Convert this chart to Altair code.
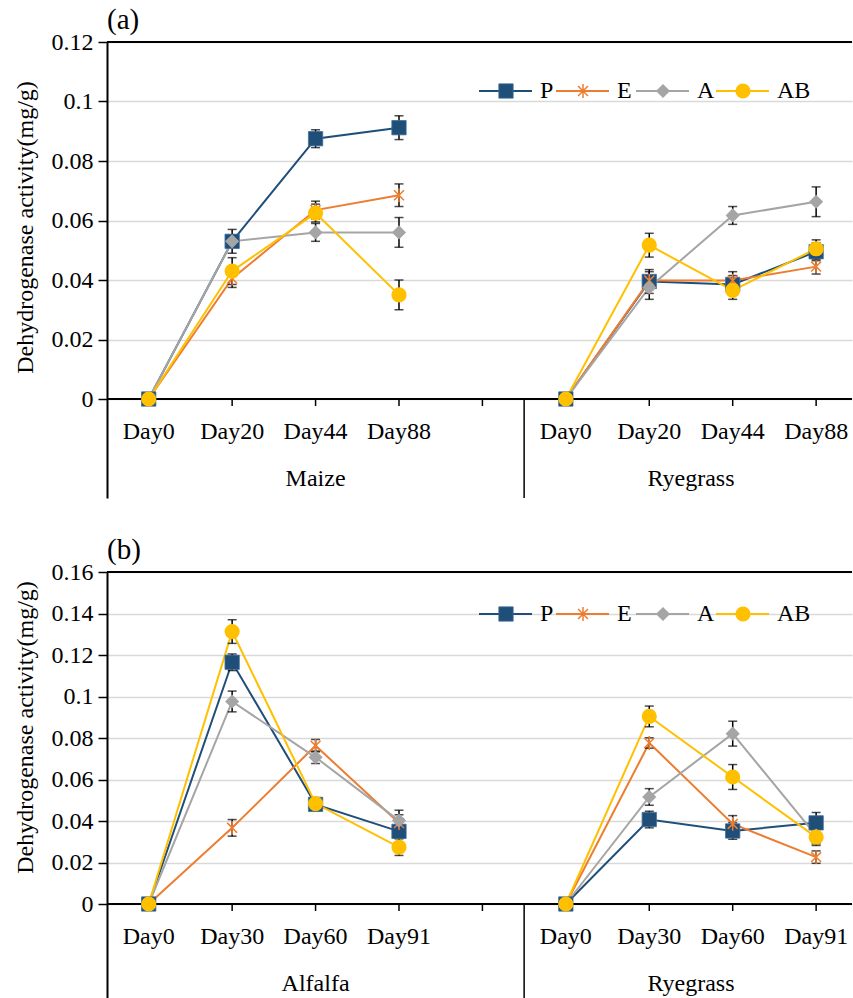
import altair as alt
import pandas as pd

FONT = "'Liberation Serif', 'Times New Roman', Times, 'DejaVu Serif', serif"
SERIES = ["P", "E", "A", "AB"]
COLORS = ["#1F4E79", "#ED7D31", "#A5A5A5", "#FFC000"]

# ---------------- Panel (a) ----------------
a_groups = ["Maize", "Ryegrass"]
a_days = ["Day0", "Day20", "Day44", "Day88"]
a_maize_P = [0, 0.0530, 0.0875, 0.0912]
a_maize_E = [0, 0.0405, 0.0635, 0.0685]
a_maize_A = [0, 0.0530, 0.0560, 0.0560]
a_maize_AB = [0, 0.0430, 0.0625, 0.0350]
a_maize_P_err = [0, 0.0040, 0.0030, 0.0040]
a_maize_E_err = [0, 0.0030, 0.0030, 0.0038]
a_maize_A_err = [0, 0.0020, 0.0030, 0.0050]
a_maize_AB_err = [0, 0.0045, 0.0030, 0.0050]
a_rye_P = [0, 0.0395, 0.0385, 0.0495]
a_rye_E = [0, 0.0398, 0.0398, 0.0445]
a_rye_A = [0, 0.0375, 0.0617, 0.0663]
a_rye_AB = [0, 0.0517, 0.0365, 0.0505]
a_rye_P_err = [0, 0.0040, 0.0030, 0.0030]
a_rye_E_err = [0, 0.0030, 0.0030, 0.0025]
a_rye_A_err = [0, 0.0040, 0.0030, 0.0050]
a_rye_AB_err = [0, 0.0040, 0.0030, 0.0030]
a_yticks = [0, 0.02, 0.04, 0.06, 0.08, 0.1, 0.12]

# ---------------- Panel (b) ----------------
b_groups = ["Alfalfa", "Ryegrass"]
b_days = ["Day0", "Day30", "Day60", "Day91"]
b_alf_P = [0, 0.1165, 0.0480, 0.0350]
b_alf_E = [0, 0.0367, 0.0763, 0.0390]
b_alf_A = [0, 0.0976, 0.0707, 0.0402]
b_alf_AB = [0, 0.1313, 0.0484, 0.0274]
b_alf_P_err = [0, 0.0040, 0.0020, 0.0030]
b_alf_E_err = [0, 0.0040, 0.0030, 0.0040]
b_alf_A_err = [0, 0.0050, 0.0030, 0.0050]
b_alf_AB_err = [0, 0.0057, 0.0020, 0.0040]
b_rye_P = [0, 0.0407, 0.0352, 0.0391]
b_rye_E = [0, 0.0776, 0.0386, 0.0226]
b_rye_A = [0, 0.0516, 0.0821, 0.0330]
b_rye_AB = [0, 0.0904, 0.0612, 0.0322]
b_rye_P_err = [0, 0.0040, 0.0040, 0.0050]
b_rye_E_err = [0, 0.0025, 0.0040, 0.0030]
b_rye_A_err = [0, 0.0040, 0.0060, 0.0040]
b_rye_AB_err = [0, 0.0050, 0.0060, 0.0040]
b_yticks = [0, 0.02, 0.04, 0.06, 0.08, 0.1, 0.12, 0.14, 0.16]

Y_TITLE = "Dehydrogenase activity(mg/g)"

# ---------------- layout constants ----------------
WIDTH = 745
X_DOM = [-0.5, 8.43]
STAR = "M-0.75,-0.75L0.75,0.75M-0.75,0.75L0.75,-0.75M0,-1.05L0,1.05"
LEG_START = [372, 449, 529, 609]


def long_df(groups, days, vals, errs):
    rows = []
    for gi, g in enumerate(groups):
        for s in SERIES:
            for di, d in enumerate(days):
                v = vals[gi][s][di]
                e = errs[gi][s][di]
                rows.append(dict(group=g, series=s, slot=gi * 5 + di, day=d,
                                 value=v, lo=v - e, hi=v + e, err=e))
    return pd.DataFrame(rows)


def panel(df, groups, days, ymax, yvals, height, zero_px, title, leg_py, title_y):
    ylo = -ymax * (height - zero_px) / zero_px
    xs = alt.Scale(domain=X_DOM, nice=False, zero=False)
    ys = alt.Scale(domain=[ylo, ymax], nice=False, zero=False)
    yaxis = alt.Axis(values=yvals, labelExpr="format(datum.value, '~g')", title=Y_TITLE,
                     titleFont=FONT, titleFontSize=24, titleFontWeight="normal",
                     titleColor="black", titlePadding=14, titleY=title_y,
                     labelFont=FONT, labelFontSize=24, labelColor="black",
                     labelPadding=5, tickSize=9, tickColor="black", tickWidth=1.5,
                     domainColor="black", domainWidth=2,
                     grid=True, gridColor="#D9D9D9", gridWidth=1.5)

    def X(f):
        return alt.X(f, type="quantitative", scale=xs, axis=None)

    def Y(f):
        return alt.Y(f, type="quantitative", scale=ys, axis=yaxis)

    color = alt.Color("series:N", scale=alt.Scale(domain=SERIES, range=COLORS), legend=None)

    def px2slot(p):
        return X_DOM[0] + p / WIDTH * (X_DOM[1] - X_DOM[0])

    def py2val(p):
        return ymax - p / height * (ymax - ylo)

    leg = pd.DataFrame(dict(
        series=SERIES,
        lx1=[px2slot(p) for p in LEG_START],
        lx2=[px2slot(p + 53) for p in LEG_START],
        slot=[px2slot(p + 27) for p in LEG_START],
        tx=[px2slot(p + 61) for p in LEG_START],
        value=[py2val(leg_py)] * 4,
    ))

    base = alt.Chart(df)
    layers = []
    # axis frame
    layers.append(alt.Chart(pd.DataFrame({"v": [0.0]})).mark_rule(color="black", strokeWidth=2)
                  .encode(y=Y("v")))
    layers.append(alt.Chart(pd.DataFrame({"v": [ymax]})).mark_rule(color="black", strokeWidth=2)
                  .encode(y=Y("v")))
    layers.append(alt.Chart(pd.DataFrame({"slot": list(range(9)), "v": [0.0] * 9}))
                  .mark_rule(color="black", strokeWidth=1.5)
                  .encode(x=X("slot"), y=Y("v"), y2=alt.value(zero_px + 7)))
    layers.append(alt.Chart(pd.DataFrame({"slot": [4.5], "v": [0.0]}))
                  .mark_rule(color="black", strokeWidth=1.5)
                  .encode(x=X("slot"), y=Y("v"), y2=alt.value(height)))
    day_df = pd.DataFrame({"slot": [0, 1, 2, 3, 5, 6, 7, 8], "label": days + days, "v": [0.0] * 8})
    layers.append(alt.Chart(day_df).mark_text(font=FONT, fontSize=24, color="black", dy=33, baseline="middle")
                  .encode(x=X("slot"), y=Y("v"), text="label:N"))
    grp_df = pd.DataFrame({"slot": [2, 6.5], "label": groups, "v": [0.0, 0.0]})
    layers.append(alt.Chart(grp_df).mark_text(font=FONT, fontSize=24, color="black", dy=80, baseline="middle")
                  .encode(x=X("slot"), y=Y("v"), text="label:N"))

    # data lines
    layers.append(base.mark_line(strokeWidth=2).encode(
        x=X("slot"), y=Y("value"), color=color, detail="group:N", order="slot:Q"))
    # legend lines and labels
    layers.append(alt.Chart(leg).mark_rule(strokeWidth=2).encode(
        x=X("lx1"), x2="lx2:Q", y=Y("value"), color=color))
    layers.append(alt.Chart(leg).mark_text(font=FONT, fontSize=24, color="black", align="left", baseline="middle")
                  .encode(x=X("tx"), y=Y("value"), text="series:N"))
    # error bars
    eb = base.transform_filter("datum.err > 0")
    layers.append(eb.mark_rule(color="black", strokeWidth=1.5).encode(x=X("slot"), y=Y("lo"), y2="hi:Q"))
    layers.append(eb.mark_tick(color="black", orient="horizontal", size=9, thickness=1.5)
                  .encode(x=X("slot"), y=Y("lo")))
    layers.append(eb.mark_tick(color="black", orient="horizontal", size=9, thickness=1.5)
                  .encode(x=X("slot"), y=Y("hi")))

    # markers (data + legend)
    for src in (base, alt.Chart(leg)):
        layers.append(src.transform_filter("datum.series == 'P'")
                      .mark_point(shape="square", filled=True, size=205, opacity=1,
                                  color=COLORS[0], stroke="#3F6D99", strokeWidth=0.8)
                      .encode(x=X("slot"), y=Y("value")))
        layers.append(src.transform_filter("datum.series == 'E'")
                      .mark_point(shape=STAR, filled=False, size=175, opacity=1,
                                  color=COLORS[1], strokeWidth=1.5)
                      .encode(x=X("slot"), y=Y("value")))
        layers.append(src.transform_filter("datum.series == 'A'")
                      .mark_point(shape="diamond", filled=True, size=200, opacity=1, color=COLORS[2])
                      .encode(x=X("slot"), y=Y("value")))
        layers.append(src.transform_filter("datum.series == 'AB'")
                      .mark_point(shape="circle", filled=True, size=230, opacity=1, color=COLORS[3])
                      .encode(x=X("slot"), y=Y("value")))

    return alt.layer(*layers).properties(
        width=WIDTH, height=height,
        title=alt.TitleParams(title, anchor="start", frame="group", font=FONT, fontSize=29,
                              fontWeight="normal", color="black", offset=-5),
    )


df_a = long_df(
    a_groups, a_days,
    [dict(P=a_maize_P, E=a_maize_E, A=a_maize_A, AB=a_maize_AB),
     dict(P=a_rye_P, E=a_rye_E, A=a_rye_A, AB=a_rye_AB)],
    [dict(P=a_maize_P_err, E=a_maize_E_err, A=a_maize_A_err, AB=a_maize_AB_err),
     dict(P=a_rye_P_err, E=a_rye_E_err, A=a_rye_A_err, AB=a_rye_AB_err)],
)
df_b = long_df(
    b_groups, b_days,
    [dict(P=b_alf_P, E=b_alf_E, A=b_alf_A, AB=b_alf_AB),
     dict(P=b_rye_P, E=b_rye_E, A=b_rye_A, AB=b_rye_AB)],
    [dict(P=b_alf_P_err, E=b_alf_E_err, A=b_alf_A_err, AB=b_alf_AB_err),
     dict(P=b_rye_P_err, E=b_rye_E_err, A=b_rye_A_err, AB=b_rye_AB_err)],
)

chart_a = panel(df_a, a_groups, a_days, 0.12, a_yticks, 456, 357, "(a)", 49, 185)
chart_b = panel(df_b, b_groups, b_days, 0.16, b_yticks, 427, 332, "(b)", 42, 155)

chart = alt.vconcat(chart_a, chart_b, spacing=37).configure_view(stroke=None).properties(
    padding={"left": 13, "top": 6, "right": 0, "bottom": 0}
)

chart.save("out.html", embed_options={"renderer": "svg", "actions": False})
